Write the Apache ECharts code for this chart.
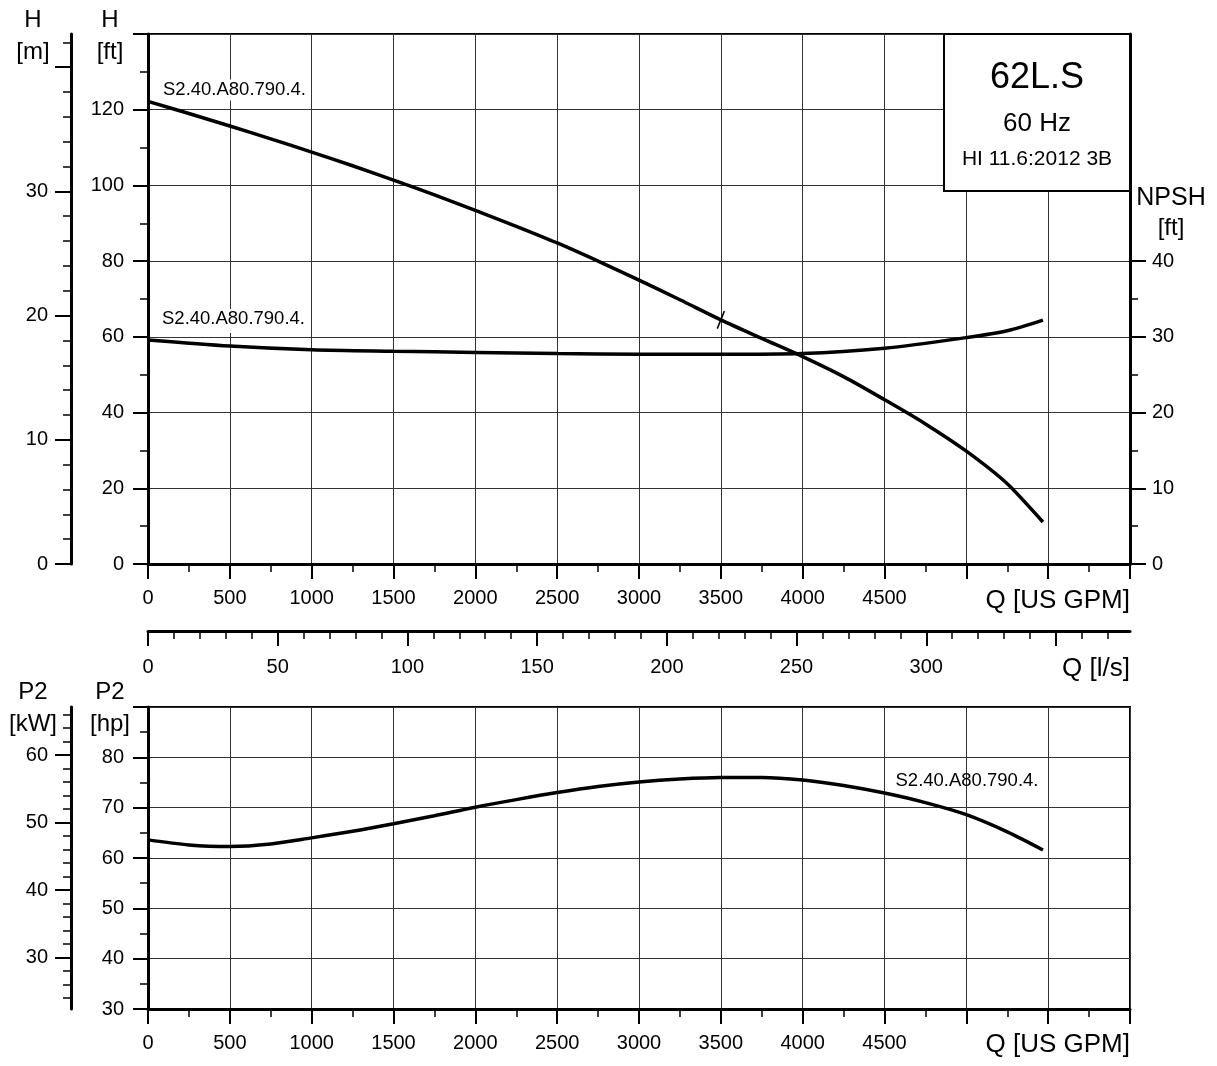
<!DOCTYPE html>
<html>
<head>
<meta charset="utf-8">
<script src="https://cdn.jsdelivr.net/npm/echarts@6/dist/echarts.min.js"></script>
<style>
html,body{margin:0;padding:0;background:#fff;}
#chart{width:1217px;height:1066px;}
</style>
</head>
<body>
<div id="chart"></div>
<script>
// ---------- data ----------
const CURVE_NAME = 'S2.40.A80.790.4.';
const GPM = [0,250,500,750,1000,1250,1500,1750,2000,2250,2500,2750,3000,3250,3500,3750,4000,4250,4500,4750,5000,5250,5468];
const H_FT = [122.2,119.0,115.7,112.3,108.8,105.2,101.4,97.5,93.4,89.2,84.8,80.0,75.0,69.8,64.5,59.6,54.8,49.5,43.4,37.0,29.8,21.2,11.1];
const P2_HP = [63.6,62.6,62.3,62.8,64.0,65.3,66.8,68.4,70.1,71.6,73.0,74.2,75.1,75.7,76.0,76.0,75.5,74.4,72.9,71.0,68.6,65.2,61.6];
const NPSH_GPM = [0,500,1000,1500,2000,2500,3000,3500,4000,4500,5000,5250,5468];
const NPSH_FT = [29.6,28.8,28.3,28.1,27.95,27.8,27.7,27.7,27.8,28.5,29.9,30.8,32.2];
const DUTY_GPM = 3500;

// axis tick values
const M_MAJOR = [0,10,20,30,40];
const M_LABELS = [0,10,20,30];
const M_MINOR = [2,4,6,8,12,14,16,18,22,24,26,28,32,34,36,38,42];
const NPSH_MAJOR = [0,10,20,30,40];
const NPSH_MINOR = [5,15,25,35];
const LS_MAJOR = [0,50,100,150,200,250,300,350];
const LS_LABELS = [0,50,100,150,200,250,300];
const LS_MINOR = [10,20,30,40,60,70,80,90,110,120,130,140,160,170,180,190,210,220,230,240,260,270,280,290,310,320,330,340,360,370];
const KW_MAJOR = [30,40,50,60];
const KW_MINOR = [24,26,28,32,34,36,38,42,44,46,48,52,54,56,58,62,64,66];

const TITLE_BOX = ['62L.S','60 Hz','HI 11.6:2012 3B'];

// unit conversions
const FT_PER_M = 3.28084;
const GPM_PER_LS = 15.850323;
const HP_PER_KW = 1.341022;

const Q_MAX = 6000, H_MAX = 140, HP_MIN = 30, HP_MAX = 90, NPSH_MAX = 70;

// ---------- chart ----------
const FONT = "'Liberation Sans', Arial, sans-serif";
const chart = echarts.init(document.getElementById('chart'));
const pair = (xs, ys) => xs.map((x, i) => [x, ys[i]]);

const tickLabel = {color:'#000', fontSize:20, fontFamily:FONT};
const axLine = {show:true, onZero:false, lineStyle:{color:'#000', width:3}};
const gridLine = {show:true, lineStyle:{color:'#333', width:1}};

function gpmAxis(gridIndex){
  return {
    type:'value', gridIndex, min:0, max:Q_MAX, interval:500,
    axisLine: axLine,
    axisTick:{show:true, length:15, lineStyle:{color:'#000', width:2}},
    minorTick:{show:true, splitNumber:2, length:8, lineStyle:{color:'#000', width:1.5}},
    splitLine: gridLine,
    axisLabel: Object.assign({margin:24, formatter: v => v < 5000 ? String(v) : ''}, tickLabel)
  };
}
function customAxis(base, major, labels, len, showLine, margin){
  return Object.assign({
    type:'value',
    axisLine: showLine ? axLine : {show:false, onZero:false},
    axisTick:{show:true, length:len, customValues:major, lineStyle:{color:'#000', width: len > 10 ? 2 : 1.5}},
    axisLabel: labels ? Object.assign({margin:margin || 23, customValues:labels}, tickLabel) : {show:false},
    splitLine:{show:false}
  }, base);
}

const option = {
  animation:false,
  backgroundColor:'#fff',
  grid:[
    {left:148, right:87, top:34, height:530, show:true, borderColor:'#000', borderWidth:2, containLabel:false},
    {left:148, right:87, top:707, height:302, show:true, borderColor:'#000', borderWidth:2, containLabel:false}
  ],
  xAxis:[
    gpmAxis(0),
    customAxis({gridIndex:0, position:'bottom', offset:67, min:0, max:Q_MAX/GPM_PER_LS}, LS_MAJOR, LS_LABELS, 15, true, 26),
    gpmAxis(1),
    customAxis({gridIndex:0, position:'bottom', offset:67, min:0, max:Q_MAX/GPM_PER_LS}, LS_MINOR, null, 8, false)
  ],
  yAxis:[
    { // 0 H ft
      type:'value', gridIndex:0, min:0, max:H_MAX, interval:20,
      axisLine: axLine,
      axisTick:{show:true, length:15, lineStyle:{color:'#000', width:2}},
      minorTick:{show:true, splitNumber:2, length:8, lineStyle:{color:'#000', width:1.5}},
      splitLine: gridLine,
      axisLabel: Object.assign({margin:24, formatter: v => v < H_MAX ? String(v) : ''}, tickLabel)
    },
    customAxis({gridIndex:0, position:'left', offset:77, min:0, max:H_MAX/FT_PER_M}, M_MAJOR, M_LABELS, 16, true), // 1 H m
    customAxis({gridIndex:0, position:'left', offset:77, min:0, max:H_MAX/FT_PER_M}, M_MINOR, null, 8, false),   // 2 H m minor
    customAxis({gridIndex:0, position:'right', min:0, max:NPSH_MAX}, NPSH_MAJOR, NPSH_MAJOR, 16, true, 22), // 3 NPSH
    customAxis({gridIndex:0, position:'right', min:0, max:NPSH_MAX}, NPSH_MINOR, null, 8, false), // 4 NPSH minor
    { // 5 P2 hp
      type:'value', gridIndex:1, min:HP_MIN, max:HP_MAX, interval:10,
      axisLine: axLine,
      axisTick:{show:true, length:15, lineStyle:{color:'#000', width:2}},
      minorTick:{show:true, splitNumber:2, length:8, lineStyle:{color:'#000', width:1.5}},
      splitLine: gridLine,
      axisLabel: Object.assign({margin:24, formatter: v => v < HP_MAX ? String(v) : ''}, tickLabel)
    },
    customAxis({gridIndex:1, position:'left', offset:77, min:HP_MIN/HP_PER_KW, max:HP_MAX/HP_PER_KW}, KW_MAJOR, KW_MAJOR, 16, true), // 6 kW
    customAxis({gridIndex:1, position:'left', offset:77, min:HP_MIN/HP_PER_KW, max:HP_MAX/HP_PER_KW}, KW_MINOR, null, 8, false) // 7 kW minor
  ],
  series:[
    {
      name:'H', type:'line', xAxisIndex:0, yAxisIndex:0, smooth:0.3, symbol:'none', z:5,
      data: pair(GPM, H_FT),
      lineStyle:{color:'#000', width:3.5},
      markPoint:{
        silent:true,
        data:[
          {coord:[GPM[0], H_FT[0]], symbol:'circle', symbolSize:0,
           label:{show:true, formatter:CURVE_NAME, position:[13,-22], color:'#000', fontSize:18.5, fontFamily:FONT,
                  backgroundColor:'#fff', padding:[1,2,1,2]}},
          {coord:[DUTY_GPM, H_FT[GPM.indexOf(DUTY_GPM)]], symbol:'rect', symbolSize:[1.6,19], symbolRotate:-22,
           itemStyle:{color:'#000'}, label:{show:false}}
        ]
      }
    },
    {
      name:'NPSH', type:'line', xAxisIndex:0, yAxisIndex:3, smooth:0.3, symbol:'none', z:5,
      data: pair(NPSH_GPM, NPSH_FT),
      lineStyle:{color:'#000', width:3.5},
      markPoint:{
        silent:true,
        data:[
          {coord:[NPSH_GPM[0], NPSH_FT[0]], symbol:'circle', symbolSize:0,
           label:{show:true, formatter:CURVE_NAME, position:[12,-31], color:'#000', fontSize:18.5, fontFamily:FONT,
                  backgroundColor:'#fff', padding:[1,2,4,2]}}
        ]
      }
    },
    {
      name:'P2', type:'line', xAxisIndex:2, yAxisIndex:5, smooth:0.3, symbol:'none', z:5,
      data: pair(GPM, P2_HP),
      lineStyle:{color:'#000', width:3.5},
      markPoint:{
        silent:true,
        data:[
          {coord:[GPM[18], P2_HP[18]], symbol:'circle', symbolSize:0,
           label:{show:true, formatter:CURVE_NAME, position:[11,-22], color:'#000', fontSize:18.5, fontFamily:FONT}}
        ]
      }
    }
  ],
  graphic:[
    // axis titles
    {type:'text', x:33, y:20, z:100, style:{text:'H', font:'24px '+FONT, fill:'#000', align:'center', verticalAlign:'middle'}},
    {type:'text', x:33, y:52, z:100, style:{text:'[m]', font:'24px '+FONT, fill:'#000', align:'center', verticalAlign:'middle'}},
    {type:'text', x:110, y:20, z:100, style:{text:'H', font:'24px '+FONT, fill:'#000', align:'center', verticalAlign:'middle'}},
    {type:'text', x:110, y:52, z:100, style:{text:'[ft]', font:'24px '+FONT, fill:'#000', align:'center', verticalAlign:'middle'}},
    {type:'text', x:1171, y:198, z:100, style:{text:'NPSH', font:'25px '+FONT, fill:'#000', align:'center', verticalAlign:'middle'}},
    {type:'text', x:1171, y:228, z:100, style:{text:'[ft]', font:'24px '+FONT, fill:'#000', align:'center', verticalAlign:'middle'}},
    {type:'text', x:1130, y:601, z:100, style:{text:'Q [US GPM]', font:'26px '+FONT, fill:'#000', align:'right', verticalAlign:'middle'}},
    {type:'text', x:1130, y:669, z:100, style:{text:'Q [l/s]', font:'26px '+FONT, fill:'#000', align:'right', verticalAlign:'middle'}},
    {type:'text', x:33, y:692, z:100, style:{text:'P2', font:'24px '+FONT, fill:'#000', align:'center', verticalAlign:'middle'}},
    {type:'text', x:33, y:724, z:100, style:{text:'[kW]', font:'24px '+FONT, fill:'#000', align:'center', verticalAlign:'middle'}},
    {type:'text', x:110, y:692, z:100, style:{text:'P2', font:'24px '+FONT, fill:'#000', align:'center', verticalAlign:'middle'}},
    {type:'text', x:110, y:724, z:100, style:{text:'[hp]', font:'24px '+FONT, fill:'#000', align:'center', verticalAlign:'middle'}},
    {type:'text', x:1130, y:1045, z:100, style:{text:'Q [US GPM]', font:'26px '+FONT, fill:'#000', align:'right', verticalAlign:'middle'}},
    // title box
    {type:'rect', z:100, shape:{x:944, y:34, width:186, height:157}, style:{fill:'#fff', stroke:'#000', lineWidth:2}},
    {type:'text', x:1037, y:78, z:101, style:{text:TITLE_BOX[0], font:'36px '+FONT, fill:'#000', align:'center', verticalAlign:'middle'}},
    {type:'text', x:1037, y:124, z:101, style:{text:TITLE_BOX[1], font:'26px '+FONT, fill:'#000', align:'center', verticalAlign:'middle'}},
    {type:'text', x:1037, y:159, z:101, style:{text:TITLE_BOX[2], font:'21px '+FONT, fill:'#000', align:'center', verticalAlign:'middle'}}
  ]
};
chart.setOption(option);
</script>
</body>
</html>
